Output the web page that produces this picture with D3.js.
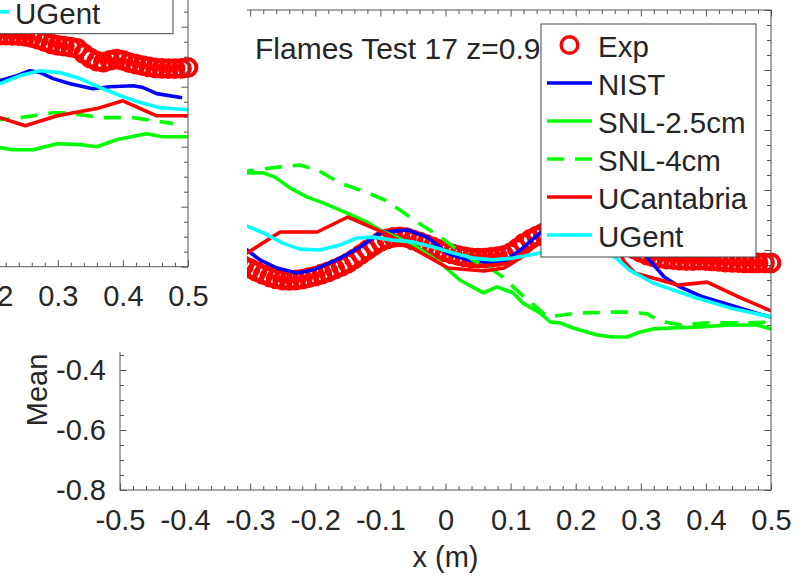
<!DOCTYPE html>
<html><head><meta charset="utf-8">
<script src="https://cdn.jsdelivr.net/npm/d3@7"></script>
<style>
body{margin:0;background:#fff}
svg{display:block}
text{font-family:"Liberation Sans",Arial,Helvetica,sans-serif;fill:#262626}
</style>
</head><body><svg id="chart" width="803" height="576"></svg>
<script>
// ---------- labels / ticks ----------
const titleText = "Flames Test 17 z=0.9";
const xLabelText = "x (m)";
const yLabelText = "Mean";
const seriesNames = ["Exp", "NIST", "SNL-2.5cm", "SNL-4cm", "UCantabria", "UGent"];
const seriesColors = ["#ff0000", "#0000ff", "#00ff00", "#00ff00", "#ff0000", "#00ffff"];
const seriesDash = [null, null, null, "17,11", null, null];
const xTicks = [-0.5, -0.4, -0.3, -0.2, -0.1, 0, 0.1, 0.2, 0.3, 0.4, 0.5];
const xTickLabels = ["-0.5", "-0.4", "-0.3", "-0.2", "-0.1", "0", "0.1", "0.2", "0.3", "0.4", "0.5"];
const yTicks = [-0.8, -0.6, -0.4, -0.2, 0, 0.2, 0.4, 0.6, 0.8];
const yTickLabels = ["-0.8", "-0.6", "-0.4", "-0.2", "0", "0.2", "0.4", "0.6", "0.8"];
const xMinorTicks = [-0.48,-0.46,-0.44,-0.42,-0.38,-0.36,-0.34,-0.32,-0.28,-0.26,-0.24,-0.22,-0.18,-0.16,-0.14,-0.12,-0.08,-0.06,-0.04,-0.02,0.02,0.04,0.06,0.08,0.12,0.14,0.16,0.18,0.22,0.24,0.26,0.28,0.32,0.34,0.36,0.38,0.42,0.44,0.46,0.48];
const yMinorTicks = [-0.75,-0.7,-0.65,-0.55,-0.5,-0.45,-0.35,-0.3,-0.25,-0.15,-0.1,-0.05,0.05,0.1,0.15,0.25,0.3,0.35,0.45,0.5,0.55,0.65,0.7,0.75];

// ---------- main panel (z = 0.9) ----------
const mainExp = [
[-0.32,-0.045],[-0.31,-0.053],[-0.30,-0.062],[-0.29,-0.072],[-0.28,-0.082],[-0.27,-0.090],[-0.26,-0.096],[-0.25,-0.100],
[-0.24,-0.101],[-0.23,-0.100],[-0.22,-0.097],[-0.21,-0.092],[-0.20,-0.087],[-0.19,-0.080],[-0.18,-0.073],[-0.17,-0.064],
[-0.16,-0.055],[-0.15,-0.044],[-0.14,-0.030],[-0.13,-0.015],[-0.12,0.000],[-0.11,0.015],[-0.10,0.028],[-0.09,0.037],
[-0.08,0.042],[-0.07,0.044],[-0.06,0.041],[-0.05,0.034],[-0.04,0.027],[-0.03,0.019],[-0.02,0.010],[-0.01,0.002],
[0.00,-0.006],[0.01,-0.013],[0.02,-0.019],[0.03,-0.023],[0.04,-0.026],[0.05,-0.027],[0.06,-0.027],[0.07,-0.025],
[0.08,-0.022],[0.09,-0.018],[0.10,-0.010],[0.11,0.005],[0.12,0.022],[0.13,0.035],[0.14,0.046],[0.15,0.056],
[0.16,0.068],[0.17,0.080],[0.18,0.090],[0.19,0.097],[0.20,0.100],[0.21,0.100],[0.22,0.097],[0.23,0.090],
[0.24,0.080],[0.25,0.066],[0.26,0.050],[0.27,0.034],[0.28,0.018],[0.29,0.004],[0.30,-0.008],[0.31,-0.017],
[0.32,-0.023],[0.33,-0.027],[0.34,-0.030],[0.35,-0.032],[0.36,-0.034],[0.37,-0.035],[0.38,-0.035],[0.39,-0.034],
[0.40,-0.035],[0.41,-0.036],[0.42,-0.038],[0.43,-0.040],[0.44,-0.041],[0.45,-0.042],[0.46,-0.043],[0.47,-0.043],
[0.48,-0.043],[0.49,-0.043],[0.50,-0.043]];
const mainNIST = [[-0.32,0.020],[-0.305,0.000],[-0.285,-0.033],[-0.259,-0.060],[-0.228,-0.077],[-0.204,-0.067],[-0.167,-0.033],
[-0.131,0.010],[-0.101,0.057],[-0.059,0.067],[-0.028,0.043],[0.002,-0.010],[0.033,-0.033],[0.064,-0.040],[0.094,-0.033],
[0.119,0.007],[0.145,0.057],[0.18,0.110],[0.22,0.130],[0.26,0.100],[0.29,0.030],[0.313,-0.033],[0.336,-0.090],
[0.360,-0.123],[0.396,-0.157],[0.437,-0.183],[0.488,-0.217],[0.50,-0.223]];
const mainSNL25 = [[-0.32,0.257],[-0.305,0.257],[-0.280,0.257],[-0.262,0.243],[-0.239,0.207],[-0.213,0.177],[-0.188,0.157],
[-0.151,0.123],[-0.121,0.093],[-0.101,0.067],[-0.075,0.043],[-0.044,0.010],[-0.008,-0.043],[0.022,-0.100],[0.058,-0.143],
[0.079,-0.123],[0.104,-0.143],[0.119,-0.177],[0.145,-0.210],[0.161,-0.240],[0.176,-0.243],[0.196,-0.260],[0.233,-0.283],
[0.257,-0.290],[0.279,-0.290],[0.299,-0.273],[0.319,-0.263],[0.345,-0.260],[0.386,-0.257],[0.437,-0.250],[0.478,-0.250],[0.50,-0.263]];
const mainSNL4 = [[-0.32,0.257],[-0.305,0.263],[-0.254,0.277],[-0.224,0.283],[-0.197,0.267],[-0.162,0.223],[-0.122,0.193],
[-0.094,0.167],[-0.070,0.133],[-0.039,0.087],[-0.007,0.043],[0.018,0.000],[0.042,-0.033],[0.073,-0.067],[0.088,-0.090],
[0.114,-0.143],[0.157,-0.223],[0.202,-0.210],[0.257,-0.207],[0.283,-0.207],[0.310,-0.213],[0.329,-0.237],[0.363,-0.250],
[0.402,-0.243],[0.463,-0.243],[0.50,-0.240]];
const mainUCant = [[-0.32,-0.030],[-0.305,-0.010],[-0.254,0.060],[-0.197,0.060],[-0.150,0.110],[-0.094,0.057],[-0.051,0.007],
[0.004,-0.060],[0.059,-0.070],[0.090,-0.060],[0.120,-0.020],[0.145,0.030],[0.200,0.120],[0.250,0.060],[0.275,-0.040],
[0.291,-0.077],[0.357,-0.117],[0.402,-0.107],[0.451,-0.157],[0.50,-0.203]];
const mainUGent = [[-0.32,0.090],[-0.305,0.080],[-0.280,0.057],[-0.250,0.023],[-0.224,0.003],[-0.193,0.000],[-0.162,0.017],
[-0.136,0.040],[-0.111,0.043],[-0.081,0.033],[-0.050,0.027],[-0.019,0.010],[0.012,-0.010],[0.042,-0.027],[0.073,-0.033],
[0.104,-0.027],[0.145,-0.010],[0.190,0.010],[0.230,0.010],[0.260,-0.023],[0.283,-0.067],[0.319,-0.110],[0.349,-0.133],
[0.386,-0.160],[0.437,-0.193],[0.50,-0.223]];

// ---------- upper-left panel (partly visible) ----------
const tlExp = [
[0.20,-0.028],[0.21,-0.028],[0.22,-0.028],[0.23,-0.029],[0.24,-0.030],[0.25,-0.032],[0.26,-0.036],[0.27,-0.042],
[0.28,-0.050],[0.29,-0.057],[0.30,-0.062],[0.31,-0.065],[0.32,-0.068],[0.33,-0.072],[0.34,-0.090],[0.35,-0.105],
[0.36,-0.115],[0.37,-0.118],[0.38,-0.112],[0.39,-0.108],[0.40,-0.112],[0.41,-0.120],[0.42,-0.125],[0.43,-0.130],
[0.44,-0.134],[0.45,-0.137],[0.46,-0.139],[0.47,-0.140],[0.48,-0.140],[0.49,-0.139],[0.50,-0.136]];
const tlNIST = [[0.20,-0.185],[0.211,-0.180],[0.237,-0.163],[0.257,-0.147],[0.273,-0.153],[0.293,-0.173],[0.319,-0.190],
[0.354,-0.207],[0.380,-0.200],[0.416,-0.197],[0.431,-0.203],[0.452,-0.223],[0.491,-0.237]];
const tlSNL25 = [[0.20,-0.400],[0.211,-0.403],[0.231,-0.410],[0.262,-0.410],[0.299,-0.390],[0.334,-0.393],[0.360,-0.400],
[0.390,-0.377],[0.436,-0.357],[0.461,-0.367],[0.50,-0.367]];
const tlSNL4 = [[0.20,-0.310],[0.231,-0.307],[0.262,-0.297],[0.293,-0.287],[0.314,-0.287],[0.365,-0.303],[0.416,-0.303],[0.477,-0.323]];
const tlUCant = [[0.20,-0.297],[0.211,-0.303],[0.250,-0.330],[0.299,-0.297],[0.360,-0.273],[0.400,-0.247],[0.452,-0.297],[0.50,-0.297]];
const tlUGent = [[0.20,-0.197],[0.211,-0.190],[0.242,-0.163],[0.273,-0.147],[0.303,-0.153],[0.334,-0.173],[0.365,-0.203],
[0.396,-0.230],[0.427,-0.253],[0.457,-0.270],[0.50,-0.277]];

// ---------- drawing ----------
const svg = d3.select("#chart");
svg.append("rect").attr("width", 803).attr("height", 576).attr("fill", "#fff");
const AX = "#555", TXT = "#262626", FS = 29;
// area of the main panel hidden by the neighbouring panel
const cover = {x: 0, y: 0, w: 247, h: 352};
const inCover = (px, py) => px < cover.x + cover.w && py < cover.y + cover.h;

function drawPanel(id, dx, dy, lines, exp, full) {
  const g = svg.append("g").attr("transform", `translate(${dx},${dy})`);
  const x = d3.scaleLinear().domain([-0.5, 0.5]).range([120, 771]);
  const y = d3.scaleLinear().domain([-0.8, 0.8]).range([490, 10]);

  g.append("clipPath").attr("id", "clip" + id).append("rect")
    .attr("x", 120).attr("y", 10).attr("width", 651).attr("height", 480);

  const line = d3.line().x(d => x(d[0])).y(d => y(d[1]));
  const dg = g.append("g");
  dg.append("g").selectAll("circle").data(exp).join("circle")
    .attr("cx", d => x(d[0])).attr("cy", d => y(d[1])).attr("r", 8.4)
    .attr("fill", "none").attr("stroke", seriesColors[0]).attr("stroke-width", 4);
  const lg = dg.append("g").attr("clip-path", `url(#clip${id})`);
  lines.forEach((s, i) => {
    lg.append("path").datum(s).attr("d", line).attr("fill", "none")
      .attr("stroke", seriesColors[i + 1]).attr("stroke-width", 3.6)
      .attr("stroke-linejoin", "round")
      .attr("stroke-dasharray", seriesDash[i + 1]);
  });

  const fmtX = d => xTickLabels[xTicks.indexOf(d)];
  const fmtY = d => yTickLabels[yTicks.indexOf(d)];
  const styleAxis = sel => {
    sel.select(".domain").remove();
    sel.attr("color", AX).attr("font-size", FS).attr("font-family", "Liberation Sans, Arial, sans-serif");
    sel.selectAll("text").attr("fill", TXT);
  };
  g.append("g").attr("transform", "translate(0,490)")
    .call(d3.axisBottom(x).tickValues(xTicks).tickFormat(fmtX).tickSizeInner(-6.5).tickSizeOuter(0).tickPadding(19))
    .call(styleAxis)
    .call(s => s.selectAll(".tick text").filter(d => x(d) + dx < -30).remove());
  g.append("g").attr("transform", "translate(0,490)")
    .call(d3.axisBottom(x).tickValues(xMinorTicks).tickFormat("").tickSizeInner(-4).tickSizeOuter(0)).call(styleAxis);
  g.append("g").attr("transform", "translate(0,10)")
    .call(d3.axisTop(x).tickValues(xTicks).tickFormat("").tickSizeInner(-6.5).tickSizeOuter(0)).call(styleAxis);
  g.append("g").attr("transform", "translate(0,10)")
    .call(d3.axisTop(x).tickValues(xMinorTicks).tickFormat("").tickSizeInner(-4).tickSizeOuter(0)).call(styleAxis);
  g.append("g").attr("transform", "translate(120,0)")
    .call(d3.axisLeft(y).tickValues(yTicks).tickFormat(full ? fmtY : "").tickSizeInner(-6.5).tickSizeOuter(0).tickPadding(14))
    .call(styleAxis)
    .call(s => s.selectAll(".tick text").filter(d => full && inCover(100 + dx, y(d) + dy)).remove());
  g.append("g").attr("transform", "translate(120,0)")
    .call(d3.axisLeft(y).tickValues(yMinorTicks).tickFormat("").tickSizeInner(-4).tickSizeOuter(0)).call(styleAxis);
  g.append("g").attr("transform", "translate(771,0)")
    .call(d3.axisRight(y).tickValues(yTicks).tickFormat("").tickSizeInner(-6.5).tickSizeOuter(0)).call(styleAxis);
  g.append("g").attr("transform", "translate(771,0)")
    .call(d3.axisRight(y).tickValues(yMinorTicks).tickFormat("").tickSizeInner(-4).tickSizeOuter(0)).call(styleAxis);
  g.append("rect").attr("x", 120).attr("y", 10).attr("width", 651).attr("height", 480)
    .attr("fill", "none").attr("stroke", AX).attr("stroke-width", 1);

  if (full) {
    g.append("text").attr("x", 255).attr("y", 59).attr("font-size", 30).text(titleText);
    g.append("text").attr("x", 445.5).attr("y", 567).attr("text-anchor", "middle").attr("font-size", FS).text(xLabelText);
    g.append("text").attr("transform", "translate(47,390) rotate(-90)").attr("text-anchor", "middle")
      .attr("font-size", FS).text(yLabelText);
  }

  const leg = g.append("g");
  leg.append("rect").attr("x", 541).attr("y", 24).attr("width", 215).attr("height", 233)
    .attr("fill", "#fff").attr("stroke", "#444").attr("stroke-width", 1);
  seriesNames.forEach((name, i) => {
    const ly = 45 + 38 * i;
    if (ly + dy < 0) return;   // entry lies above the picture
    if (i === 0) {
      leg.append("circle").attr("cx", 569.5).attr("cy", ly).attr("r", 8.3).attr("fill", "none")
        .attr("stroke", seriesColors[0]).attr("stroke-width", 3.4);
    } else {
      leg.append("line").attr("x1", 547).attr("x2", 592).attr("y1", ly).attr("y2", ly)
        .attr("stroke", seriesColors[i]).attr("stroke-width", 3.6).attr("stroke-dasharray", seriesDash[i]);
    }
    leg.append("text").attr("x", 598).attr("y", ly + 12).attr("font-size", 29.5).text(name);
  });
}

drawPanel("main", 0, 0, [mainNIST, mainSNL25, mainSNL4, mainUCant, mainUGent], mainExp, true);
svg.append("rect").attr("x", cover.x).attr("y", cover.y).attr("width", cover.w).attr("height", cover.h).attr("fill", "#fff");
drawPanel("tl", -583, -223.3, [tlNIST, tlSNL25, tlSNL4, tlUCant, tlUGent], tlExp, false);
</script></body></html>
